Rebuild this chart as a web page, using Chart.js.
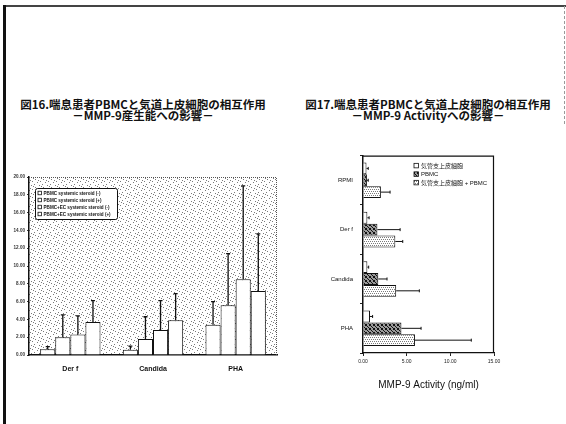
<!DOCTYPE html>
<html lang="ja">
<head>
<meta charset="utf-8">
<title>MMP-9</title>
<script src="https://cdn.jsdelivr.net/npm/chart.js@4.4.1/dist/chart.umd.min.js"></script>
<style>
html,body{margin:0;padding:0;background:#fff;}
#page{position:relative;width:566px;height:424px;overflow:hidden;background:#fff;}
.rule{position:absolute;}
.title{position:absolute;font-family:"Noto Sans CJK JP",sans-serif;font-weight:700;font-size:11.5px;line-height:11px;color:#111;text-align:center;white-space:nowrap;}
canvas{position:absolute;left:0;top:0;}
</style>
</head>
<body>
<div id="page">
  <div class="rule" style="left:3px;top:5px;width:563px;height:2px;background:#444"></div>
  <div class="rule" style="left:3px;top:5px;width:3px;height:419px;background:#111"></div>
  <div class="rule" style="left:564px;top:6px;width:0;height:118px;border-left:1px dashed #999"></div>

  <div class="title" style="left:12px;top:99px;width:262px">図16.喘息患者PBMCと気道上皮細胞の相互作用<br>－MMP-9産生能への影響－</div>
  <div class="title" style="left:297px;top:99px;width:262px">図17.喘息患者PBMCと気道上皮細胞の相互作用<br>－MMP-9 Activityへの影響－</div>

  <div style="position:absolute;left:0;top:165px;width:290px;height:215px"><canvas id="prodChart" width="290" height="215"></canvas></div>
  <div style="position:absolute;left:290px;top:145px;width:276px;height:255px"><canvas id="actChart" width="276" height="255"></canvas></div>
</div>
<script>
// ---- Fig.16: MMP-9 production (vertical bars, mean + SD) ----
const prodCategories = ['Der f', 'Candida', 'PHA'];
const prodSeriesNames = [
  'PBMC systemic steroid (-)',
  'PBMC systemic steroid (+)',
  'PBMC+EC systemic steroid (-)',
  'PBMC+EC systemic steroid (+)'
];
const prodPbmcSteroidNeg = [0.65, 0.6, 3.4];
const prodPbmcSteroidNegSD = [0.3, 0.4, 2.6];
const prodPbmcSteroidPos = [2.0, 1.8, 5.6];
const prodPbmcSteroidPosSD = [2.5, 2.5, 5.8];
const prodMixSteroidNeg = [2.3, 2.8, 8.5];
const prodMixSteroidNegSD = [2.1, 3.3, 10.5];
const prodMixSteroidPos = [3.7, 3.9, 7.2];
const prodMixSteroidPosSD = [2.4, 3.0, 6.4];
const prodAxisMax = 20;
const prodAxisStep = 2;

// ---- Fig.17: MMP-9 activity (horizontal bars, mean + SD) ----
const actCategories = ['RPMI', 'Der f', 'Candida', 'PHA'];
const actSeriesNames = ['気管支上皮細胞', 'PBMC', '気管支上皮細胞 + PBMC'];
const actEpithelial = [0.4, 0.5, 0.5, 0.8];
const actEpithelialSD = [0.2, 0.2, 0.15, 0.3];
const actPbmc = [0.45, 1.65, 1.75, 4.4];
const actPbmcSD = [0.15, 2.6, 1.0, 2.25];
const actCombined = [2.05, 3.7, 3.8, 5.95];
const actCombinedSD = [1.05, 0.85, 2.65, 6.45];
const actAxisMax = 15;
const actAxisStep = 5;
const actAxisTitle = 'MMP-9 Activity (ng/ml)';

// small tiled textures for fills
function makeTile(size, base, dots, dotColor) {
  const c = document.createElement('canvas');
  c.width = size; c.height = size;
  const g = c.getContext('2d');
  g.fillStyle = base; g.fillRect(0, 0, size, size);
  g.fillStyle = dotColor;
  dots.forEach(([x, y]) => g.fillRect(x, y, 1, 1));
  return g.createPattern(c, 'repeat');
}
const stipple = makeTile(8, '#ffffff',
  [[0, 0], [5, 1], [2, 3], [7, 4], [3, 6], [6, 7], [1, 5]], '#7a7a7a');
const lightStipple = makeTile(4, '#ffffff', [[0, 0], [2, 0], [1, 2], [3, 2]], '#7c7c7c');
const darkHatch = makeTile(4, '#9a9a9a', [[0, 0], [1, 1], [2, 2], [3, 3], [3, 0], [0, 3]], '#111111');

// error whiskers drawn from each bar's end
const errorBars = {
  id: 'errorBars',
  afterDatasetsDraw(chart, args, opts) {
    const ctx = chart.ctx;
    const horizontal = chart.options.indexAxis === 'y';
    const vs = horizontal ? chart.scales.x : chart.scales.y;
    chart.data.datasets.forEach((ds, di) => {
      const meta = chart.getDatasetMeta(di);
      meta.data.forEach((bar, i) => {
        const end = vs.getPixelForValue(ds.data[i] + ds.errors[i]);
        ctx.save();
        ctx.strokeStyle = opts.color;
        ctx.lineWidth = opts.width;
        ctx.beginPath();
        if (horizontal) {
          ctx.moveTo(bar.x, bar.y); ctx.lineTo(end, bar.y);
          ctx.moveTo(end, bar.y - opts.cap); ctx.lineTo(end, bar.y + opts.cap);
        } else {
          ctx.moveTo(bar.x, bar.y); ctx.lineTo(bar.x, end);
          ctx.moveTo(bar.x - opts.cap, end); ctx.lineTo(bar.x + opts.cap, end);
        }
        ctx.stroke();
        ctx.restore();
      });
    });
  }
};

// plot background texture and frame
const plotFrame = {
  id: 'plotFrame',
  beforeDraw(chart, args, opts) {
    const a = chart.chartArea, ctx = chart.ctx;
    if (opts.fill) {
      ctx.save();
      ctx.fillStyle = opts.fill;
      ctx.fillRect(a.left, a.top, a.right - a.left, a.bottom - a.top);
      ctx.restore();
    }
  },
  afterDatasetsDraw(chart, args, opts) {
    const a = chart.chartArea, ctx = chart.ctx;
    ctx.save();
    ctx.strokeStyle = opts.color;
    ctx.lineWidth = opts.width;
    ctx.setLineDash(opts.dash || []);
    ctx.beginPath();
    ctx.moveTo(a.left, a.top + 0.5);
    ctx.lineTo(a.right - 0.5, a.top + 0.5);
    ctx.lineTo(a.right - 0.5, a.bottom);
    ctx.stroke();
    ctx.restore();
  }
};

// legend placed inside the plot area
const insetLegend = {
  id: 'insetLegend',
  afterDraw(chart, args, o) {
    const a = chart.chartArea, ctx = chart.ctx;
    const x0 = a.left + o.dx, y0 = a.top + o.dy;
    ctx.save();
    if (o.frame) {
      ctx.strokeStyle = '#111'; ctx.lineWidth = 1;
      ctx.fillStyle = '#fff';
      ctx.beginPath();
      ctx.roundRect(x0 + 0.5, y0 + 0.5, o.frame.w, o.frame.h, 2);
      ctx.fill(); ctx.stroke();
    }
    ctx.font = o.font;
    ctx.textBaseline = 'middle';
    ctx.textAlign = 'left';
    chart.data.datasets.forEach((ds, i) => {
      const cy = y0 + o.first + i * o.step;
      const bx = x0 + o.pad;
      ctx.fillStyle = ds.backgroundColor;
      ctx.fillRect(bx, cy - o.box / 2, o.box, o.box);
      ctx.strokeStyle = '#111'; ctx.lineWidth = 0.8;
      ctx.strokeRect(bx, cy - o.box / 2, o.box, o.box);
      ctx.fillStyle = '#111';
      ctx.fillText(ds.label, bx + o.box + o.gap, cy + 0.5);
    });
    ctx.restore();
  }
};

Chart.register(errorBars, plotFrame, insetLegend);

const tickFmt = v => Number(v).toFixed(2);

// Fig.16
new Chart(document.getElementById('prodChart'), {
  type: 'bar',
  data: {
    labels: prodCategories,
    datasets: [
      { label: prodSeriesNames[0], data: prodPbmcSteroidNeg, errors: prodPbmcSteroidNegSD },
      { label: prodSeriesNames[1], data: prodPbmcSteroidPos, errors: prodPbmcSteroidPosSD },
      { label: prodSeriesNames[2], data: prodMixSteroidNeg, errors: prodMixSteroidNegSD },
      { label: prodSeriesNames[3], data: prodMixSteroidPos, errors: prodMixSteroidPosSD }
    ].map(d => Object.assign(d, {
      backgroundColor: '#ffffff', borderColor: '#111', borderWidth: 1,
      categoryPercentage: 0.73, barPercentage: 1.0
    }))
  },
  options: {
    responsive: false,
    animation: false,
    layout: { padding: { left: 0, top: 12, right: 13, bottom: 0 } },
    plugins: {
      legend: { display: false },
      tooltip: { enabled: false },
      errorBars: { color: '#111', width: 1.3, cap: 2 },
      plotFrame: { fill: stipple, color: '#555', width: 1, dash: [1, 1] },
      insetLegend: {
        dx: 6, dy: 11, frame: { w: 82, h: 31 }, first: 5, step: 7,
        pad: 3, box: 3.5, gap: 2, font: 'bold 4.6px "Liberation Sans", Arial, sans-serif'
      }
    },
    scales: {
      x: {
        grid: { display: false, drawTicks: false },
        border: { display: true, color: '#111', width: 1.5 },
        ticks: { padding: 10, color: '#111', font: { family: 'Liberation Sans', size: 7, weight: 'bold' } },
        afterFit: s => { s.height = 25; }
      },
      y: {
        min: 0, max: prodAxisMax,
        grid: { display: true, drawOnChartArea: false, tickLength: 2, color: '#333' },
        border: { display: true, color: '#111', width: 1.5 },
        ticks: { stepSize: prodAxisStep, padding: 2, callback: tickFmt, color: '#333',
                 font: { family: 'Liberation Sans', size: 4.6, weight: 'bold' } },
        afterFit: s => { s.width = 29; }
      }
    }
  }
});

// Fig.17
new Chart(document.getElementById('actChart'), {
  type: 'bar',
  data: {
    labels: actCategories,
    datasets: [
      { label: actSeriesNames[0], data: actEpithelial, errors: actEpithelialSD, backgroundColor: '#ffffff' },
      { label: actSeriesNames[1], data: actPbmc, errors: actPbmcSD, backgroundColor: darkHatch },
      { label: actSeriesNames[2], data: actCombined, errors: actCombinedSD, backgroundColor: lightStipple }
    ].map(d => Object.assign(d, {
      borderColor: '#111', borderWidth: 1,
      categoryPercentage: 0.72, barPercentage: 1.0
    }))
  },
  options: {
    indexAxis: 'y',
    responsive: false,
    animation: false,
    layout: { padding: { left: 0, top: 10, right: 72, bottom: 0 } },
    plugins: {
      legend: { display: false },
      tooltip: { enabled: false },
      errorBars: { color: '#111', width: 1, cap: 1.5 },
      plotFrame: { fill: null, color: '#111', width: 1.2, dash: [] },
      insetLegend: {
        dx: 51, dy: 10, frame: null, first: 0, step: 8.5,
        pad: 0, box: 4.5, gap: 2.5, font: '6px "Liberation Sans", "Noto Sans CJK JP", sans-serif'
      }
    },
    scales: {
      x: {
        min: 0, max: actAxisMax,
        grid: { display: true, drawOnChartArea: false, tickLength: 3, color: '#222' },
        border: { display: true, color: '#111', width: 1.2 },
        ticks: { stepSize: actAxisStep, padding: 3, callback: tickFmt, color: '#222',
                 font: { family: 'Liberation Sans', size: 5 } },
        title: { display: true, text: actAxisTitle, color: '#111',
                 font: { family: 'Liberation Sans', size: 10 }, padding: { top: 0, bottom: 9 } },
        afterFit: s => { s.height = 47; }
      },
      y: {
        grid: { display: true, drawOnChartArea: false, tickLength: 3, offset: true, color: '#222' },
        border: { display: true, color: '#111', width: 1.5 },
        ticks: { padding: 7, color: '#111', font: { family: 'Liberation Sans', size: 6 } },
        afterFit: s => { s.width = 73; }
      }
    }
  }
});
</script>
</body>
</html>
